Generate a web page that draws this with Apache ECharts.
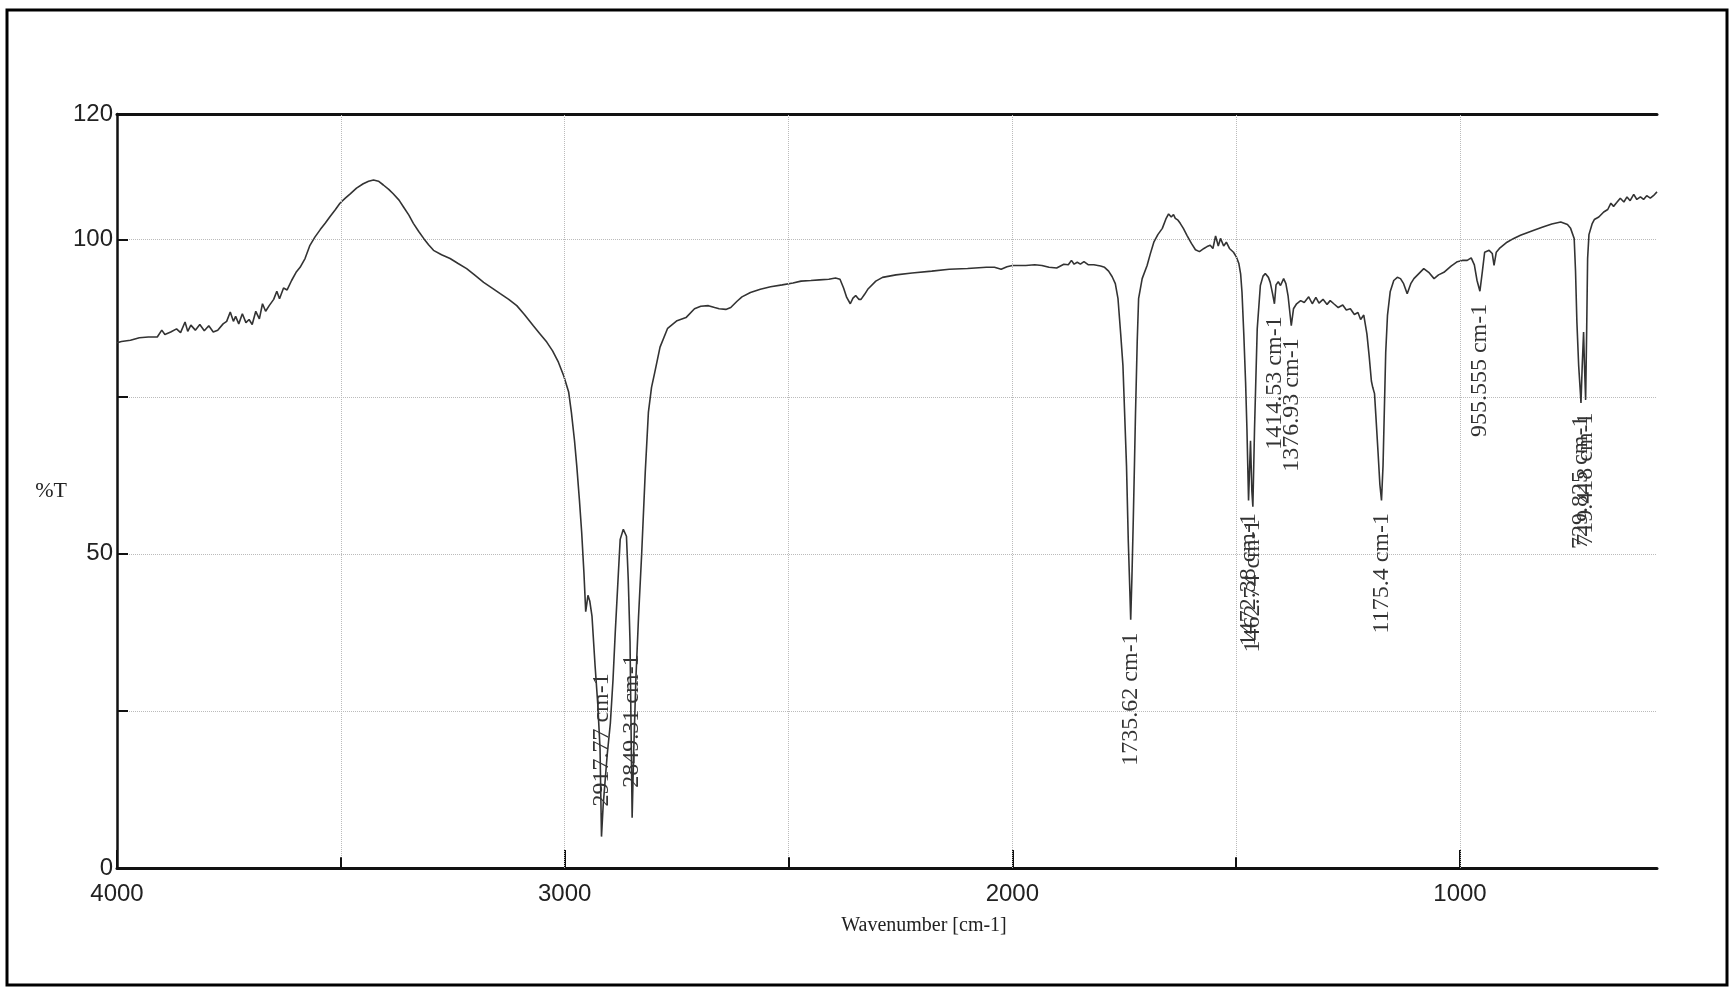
<!DOCTYPE html>
<html>
<head>
<meta charset="utf-8">
<title>IR spectrum</title>
<script src="https://cdn.jsdelivr.net/npm/echarts@6.0.0/dist/echarts.min.js"></script>
<style>
html, body { margin: 0; padding: 0; background: #fff; }
#chart { width: 1731px; height: 988px; }
</style>
</head>
<body>
<div id="chart"></div>
<script>
// spectrum, wavenumber [cm-1] -> %T
var wavenumbers = [
    4000, 3990, 3970, 3950, 3930, 3910, 3900, 3893, 3880, 3867, 3858, 3848, 3842, 3835, 3825, 3815,
    3805, 3795, 3785, 3775, 3763, 3755, 3747, 3740, 3735, 3728, 3720, 3712, 3705, 3698, 3690, 3682,
    3675, 3668, 3660, 3650, 3643, 3637, 3628, 3620, 3610, 3600, 3591, 3580, 3569, 3558, 3546, 3535,
    3524, 3512, 3502, 3490, 3479, 3465, 3450, 3438, 3427, 3416, 3405, 3393, 3383, 3370, 3360, 3348,
    3338, 3326, 3315, 3304, 3293, 3275, 3256, 3238, 3219, 3200, 3181, 3162, 3144, 3125, 3107, 3090,
    3070, 3055, 3040, 3027, 3014, 3002, 2991, 2985, 2978, 2973, 2967, 2962, 2957, 2953, 2948, 2944,
    2939, 2932, 2926, 2921, 2917.77, 2914, 2905, 2898, 2892, 2887, 2880, 2876, 2869, 2862, 2858, 2854,
    2852, 2849.31, 2846, 2841, 2835, 2828, 2820, 2813, 2806, 2799, 2787, 2770, 2749, 2729, 2710, 2696,
    2679, 2665, 2655, 2640, 2629, 2615, 2604, 2585, 2563, 2540, 2514, 2490, 2472, 2450, 2431, 2410,
    2395, 2385, 2377, 2370, 2362, 2356, 2350, 2343, 2338, 2330, 2323, 2305, 2290, 2260, 2224, 2180,
    2141, 2100, 2058, 2040, 2025, 2012, 2000, 1970, 1950, 1934, 1918, 1901, 1885, 1875, 1868, 1862,
    1855, 1848, 1840, 1830, 1818, 1803, 1794, 1785, 1777, 1770, 1764, 1758, 1753, 1748, 1745, 1741,
    1737.5, 1735.62, 1733, 1730, 1727, 1725, 1721, 1718, 1710, 1699, 1692, 1684, 1675, 1665, 1657, 1651,
    1645, 1640, 1636, 1630, 1625, 1618, 1610, 1600, 1591, 1582, 1572, 1565, 1558, 1552, 1546, 1540,
    1535, 1528, 1522, 1515, 1506, 1500, 1494, 1490, 1487, 1483, 1479, 1476, 1472.38, 1468, 1465, 1462.74,
    1459, 1456, 1453, 1446, 1440, 1435, 1428, 1424, 1419, 1414.53, 1411, 1406, 1401, 1394, 1389, 1384,
    1376.93, 1372, 1365, 1356, 1348, 1338, 1330, 1322, 1315, 1306, 1297, 1290, 1282, 1272, 1262, 1254,
    1245, 1236, 1228, 1222, 1215, 1208, 1203, 1198, 1195, 1191, 1188, 1183, 1179, 1175.4, 1172, 1169,
    1166, 1162, 1156, 1148, 1140, 1133, 1126, 1118, 1110, 1103, 1092, 1081, 1070, 1058, 1048, 1036,
    1020, 1006, 995, 984, 975, 968, 962, 955.555, 950, 945, 935, 928, 924, 919, 912, 895,
    880, 865, 850, 835, 815, 795, 775, 760, 753, 745, 742, 739, 735, 731, 729.825, 727,
    724, 722, 719.418, 717, 715, 712, 705, 700, 690, 679, 670, 663, 657, 650, 642, 634,
    627, 620, 612, 605, 597, 590, 583, 575, 568, 560
];
var transmittance = [
    83.6, 83.8, 84.0, 84.4, 84.5, 84.5, 85.6, 84.9, 85.3, 85.8, 85.2, 86.9, 85.4, 86.4, 85.6, 86.5,
    85.5, 86.3, 85.3, 85.6, 86.6, 87.0, 88.5, 87.0, 87.8, 86.6, 88.2, 86.8, 87.3, 86.5, 88.6, 87.4,
    89.8, 88.6, 89.5, 90.5, 91.8, 90.6, 92.3, 92.0, 93.5, 94.8, 95.6, 97.0, 99.1, 100.4, 101.6, 102.6,
    103.7, 104.8, 105.8, 106.6, 107.3, 108.2, 108.9, 109.3, 109.5, 109.3, 108.7, 108.0, 107.3, 106.3, 105.2, 103.9,
    102.6, 101.3, 100.2, 99.2, 98.3, 97.6, 97.0, 96.2, 95.4, 94.3, 93.2, 92.3, 91.4, 90.5, 89.5, 88.1,
    86.3, 85.0, 83.7, 82.3, 80.5, 78.3, 75.7, 72.5, 68.0, 64.0, 58.5, 53.4, 47.0, 40.8, 43.4, 42.5,
    40.1, 32.1, 26.0, 19.0, 5.0, 10.0, 18.0, 23.0, 30.0, 37.5, 47.0, 52.3, 53.9, 52.8, 46.0, 36.0,
    24.0, 8.0, 18.0, 30.0, 40.0, 50.0, 63.0, 72.5, 76.5, 78.8, 82.9, 85.9, 87.1, 87.6, 89.0, 89.4,
    89.5, 89.2, 89.0, 88.9, 89.2, 90.2, 90.9, 91.6, 92.1, 92.5, 92.8, 93.1, 93.4, 93.5, 93.6, 93.7,
    93.9, 93.7, 92.3, 90.8, 89.8, 90.7, 91.1, 90.5, 90.5, 91.3, 92.1, 93.4, 94.0, 94.4, 94.7, 95.0,
    95.3, 95.4, 95.6, 95.6, 95.3, 95.7, 95.9, 95.9, 96.0, 95.9, 95.6, 95.5, 96.1, 96.0, 96.7, 96.1,
    96.4, 96.1, 96.5, 96.0, 96.0, 95.8, 95.6, 95.0, 94.1, 93.0, 90.6, 85.0, 80.0, 70.0, 64.0, 52.0,
    44.0, 39.5, 46.0, 55.0, 65.0, 72.0, 84.0, 90.6, 93.8, 95.9, 97.7, 99.6, 100.8, 101.8, 103.3, 104.1,
    103.6, 104.0, 103.4, 103.1, 102.6, 101.8, 100.7, 99.4, 98.4, 98.1, 98.6, 98.9, 99.1, 98.6, 100.6, 99.0,
    100.2, 99.0, 99.6, 98.6, 98.0, 97.3, 96.2, 94.5, 91.6, 85.0, 77.3, 69.9, 58.5, 68.0, 60.0, 57.5,
    70.0, 78.0, 85.8, 92.7, 94.2, 94.6, 94.0, 93.2, 91.5, 89.8, 92.8, 93.3, 92.7, 93.8, 93.0, 91.0,
    86.3, 89.0, 89.8, 90.3, 90.0, 90.9, 89.8, 90.8, 89.9, 90.5, 89.7, 90.3, 89.8, 89.2, 89.6, 88.8,
    89.0, 88.1, 88.4, 87.3, 88.0, 85.0, 81.5, 77.5, 76.5, 75.5, 72.0, 66.0, 61.0, 58.5, 64.0, 73.0,
    82.0, 88.0, 91.7, 93.5, 94.0, 93.8, 93.0, 91.4, 93.0, 93.8, 94.6, 95.4, 94.8, 93.8, 94.4, 94.8,
    95.8, 96.5, 96.7, 96.7, 97.1, 96.0, 93.5, 91.8, 95.0, 98.0, 98.3, 97.8, 95.9, 98.0, 98.6, 99.6,
    100.2, 100.7, 101.1, 101.5, 102.0, 102.5, 102.8, 102.4, 101.8, 100.2, 95.0, 87.0, 80.0, 75.5, 74.0, 80.0,
    85.3, 80.0, 74.5, 86.0, 97.0, 100.8, 102.5, 103.2, 103.6, 104.4, 104.8, 105.8, 105.3, 105.9, 106.6, 106.0,
    106.8, 106.2, 107.2, 106.4, 106.8, 106.4, 107.0, 106.6, 107.0, 107.6
];

var xLabelTicks = [4000, 3000, 2000, 1000];
var xMinorTicks = [3500, 2500, 1500];
var xGridTicks = [3500, 3000, 2500, 2000, 1500, 1000];
var yLabelTicks = [0, 50, 100, 120];

// picked peaks
var peakWn = [2917.77, 2849.31, 1735.62, 1472.38, 1462.74, 1414.53, 1376.93, 1175.4, 955.555, 729.825, 719.418];
var peakText = ['2917.77 cm-1', '2849.31 cm-1', '1735.62 cm-1', '1472.38 cm-1', '1462.74 cm-1',
    '1414.53 cm-1', '1376.93 cm-1', '1175.4 cm-1', '955.555 cm-1', '729.825 cm-1', '719.418 cm-1'];

var SERIF = '"Liberation Serif", "Times New Roman", serif';
var SANS = '"Liberation Sans Narrow", "Liberation Sans", Arial, sans-serif';

var chart = echarts.init(document.getElementById('chart'));

var points = wavenumbers.map(function (w, i) {
    return [w, transmittance[i]];
});

function valueAt(wn) {
    var best = 0;
    for (var i = 1; i < wavenumbers.length; i++) {
        if (Math.abs(wavenumbers[i] - wn) < Math.abs(wavenumbers[best] - wn)) best = i;
    }
    return transmittance[best];
}

// dotted grid + short minor ticks on the x axis
var markLines = xGridTicks.map(function (t) {
    return { xAxis: t };
});
xMinorTicks.forEach(function (t) {
    markLines.push([
        { coord: [t, 0], lineStyle: { color: '#111', type: 'solid', width: 2 } },
        { coord: [t, 1.7] }
    ]);
});

var option = {
    animation: false,
    backgroundColor: '#fff',
    grid: { left: 117, right: 74, top: 114, bottom: 120 },
    xAxis: [{
        type: 'value',
        position: 'bottom',
        inverse: true,
        min: 560,
        max: 4000,
        name: 'Wavenumber [cm-1]',
        nameLocation: 'middle',
        nameGap: 48,
        nameTextStyle: { fontFamily: SERIF, fontSize: 20, color: '#222', padding: [0, 0, 0, 74] },
        axisLine: { lineStyle: { color: '#111', width: 3 } },
        axisTick: { inside: true, length: 18, customValues: xLabelTicks,
            lineStyle: { color: '#111', width: 2 } },
        axisLabel: {
            customValues: xLabelTicks,
            margin: 14,
            fontFamily: SANS,
            fontSize: 24,
            color: '#222',
            formatter: function (v) { return String(v); }
        },
        splitLine: { show: false }
    }, {
        type: 'value',
        position: 'top',
        inverse: true,
        min: 560,
        max: 4000,
        axisLine: { lineStyle: { color: '#111', width: 3 } },
        axisTick: { show: false },
        axisLabel: { show: false },
        splitLine: { show: false }
    }],
    yAxis: {
        type: 'value',
        min: 0,
        max: 120,
        interval: 25,
        name: '%T',
        nameLocation: 'middle',
        nameRotate: 0,
        nameGap: 40,
        nameTextStyle: { fontFamily: SERIF, fontSize: 22, color: '#222', padding: [46, 0, 0, 0] },
        axisLine: { show: true, lineStyle: { color: '#111', width: 2.5 } },
        axisTick: { inside: true, length: 11, lineStyle: { color: '#111', width: 2 } },
        axisLabel: {
            margin: 4,
            showMaxLabel: true,
            fontFamily: SANS,
            fontSize: 24,
            color: '#222',
            formatter: function (v) {
                return yLabelTicks.indexOf(v) >= 0 ? String(v) : '';
            }
        },
        splitLine: { show: true, lineStyle: { color: '#bbb', type: 'dotted', width: 1 } }
    },
    series: [{
        type: 'line',
        xAxisIndex: 0,
        data: points,
        showSymbol: false,
        smooth: false,
        lineStyle: { color: '#333', width: 1.6 },
        z: 3
    }, {
        type: 'line',
        xAxisIndex: 0,
        data: [],
        markLine: {
            silent: true,
            symbol: 'none',
            label: { show: false },
            lineStyle: { color: '#bbb', type: 'dotted', width: 1 },
            data: markLines
        }
    }]
};
chart.setOption(option);

// frame and peak labels, placed through the axes
var graphics = [{
    type: 'rect',
    shape: { x: 7, y: 10, width: 1720, height: 975 },
    style: { fill: 'none', stroke: '#000', lineWidth: 3 },
    silent: true
}];
peakWn.forEach(function (wn, i) {
    var t = valueAt(wn);
    var top = t - 2;
    if (top - 22 < 0) top = t + 26;
    var p = chart.convertToPixel({ xAxisIndex: 0, yAxisIndex: 0 }, [wn, top]);
    graphics.push({
        type: 'text',
        x: p[0],
        y: p[1],
        rotation: Math.PI / 2,
        style: {
            text: peakText[i],
            fontFamily: SERIF,
            fontSize: 24,
            fill: '#333',
            align: 'right',
            verticalAlign: 'middle'
        },
        z: 10
    });
});
chart.setOption({ graphic: graphics });
</script>
</body>
</html>
